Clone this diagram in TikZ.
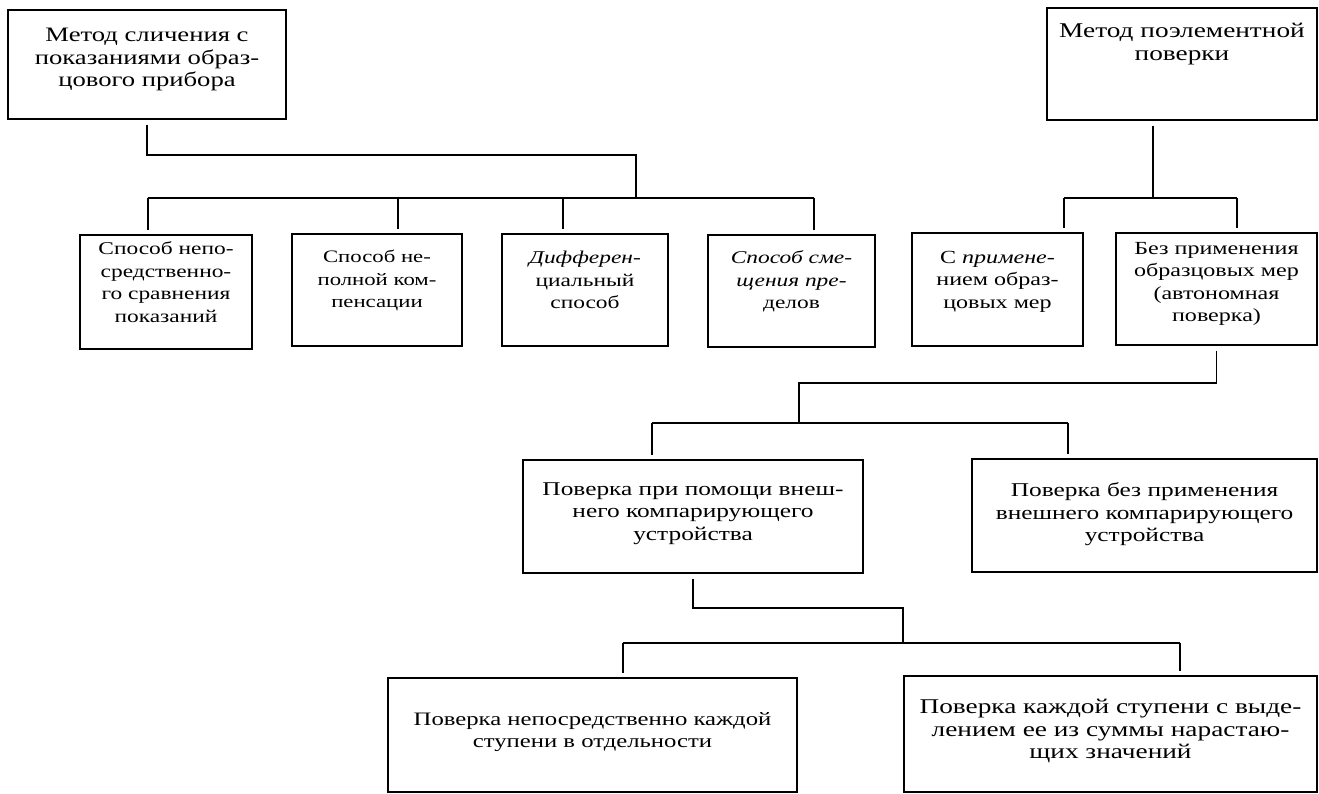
\documentclass[tikz,border=0pt]{standalone}
\usepackage{fontspec}
\setmainfont{Liberation Serif}[FakeStretch=1.3]
\usetikzlibrary{calc}

\begin{document}
\begin{tikzpicture}[x=1pt, y=-1pt,
		box/.style={draw, line width=1.3pt, align=center, inner sep=0pt, font=\fontsize{19}{22.5}\selectfont},
		fs/.style={font=\fontsize{#1}{22.5}\selectfont},
		lift/.style={text depth=#1},
		feed/.style={line width=1.2pt, shorten <=5pt},
		drop/.style={line width=1.2pt, shorten >=4pt},
		bus/.style={line width=1.2pt}]
				\useasboundingbox (0,0) rectangle (1319,794);
				\fill[white] (0,0) rectangle (1319,794);

				\node[box, fs=20.5, lift=14pt, minimum width=278, minimum height=109] (slich) at (147,64.5) {Метод сличения с\\показаниями образ-\\цового прибора};
				\node[box, fs=21, lift=44pt, minimum width=270, minimum height=112] (poel) at (1182,64) {Метод поэлементной\\поверки};

				\node[box, fs=18, lift=20pt, minimum width=172, minimum height=114] (sp1) at (166,292) {Способ непо-\\средственно-\\го сравнения\\показаний};
				\node[box, fs=17.5, lift=22pt, minimum width=170, minimum height=112] (sp2) at (377,290) {Способ не-\\полной ком-\\пенсации};
				\node[box, fs=18, lift=20pt, minimum width=166, minimum height=112] (sp3) at (585,290) {\textit{Дифферен-}\\циальный\\способ};
				\node[box, fs=18, lift=22pt, minimum width=167, minimum height=112] (sp4) at (791.5,291) {\textit{Способ сме-}\\\textit{щения пре-}\\делов};
				\node[box, fs=18.5, lift=20pt, minimum width=171, minimum height=113] (sobr) at (997.5,289.5) {С \textit{примене-}\\нием образ-\\цовых мер};
				\node[box, fs=18.5, lift=14pt, minimum width=201, minimum height=112] (avt) at (1216.5,289) {Без применения\\образцовых мер\\(автономная\\поверка)};

				\node[box, fs=19.5, lift=10pt, minimum width=340, minimum height=113] (vnesh) at (693,516.5) {Поверка при помощи внеш-\\него компарирующего\\устройства};
				\node[box, fs=19.5, lift=6pt, minimum width=345, minimum height=113] (bezv) at (1144.5,515.5) {Поверка без применения\\внешнего компарирующего\\устройства};

				\node[box, lift=10pt, minimum width=409, minimum height=114] (kazhd) at (592.5,735) {Поверка непосредственно каждой\\ступени в отдельности};
				\node[box, fs=21, lift=10pt, minimum width=413, minimum height=116] (summ) at (1110.5,734) {Поверка каждой ступени с выде-\\лением ее из суммы нарастаю-\\щих значений};

				\coordinate (j0) at (636,155);
				\coordinate (j1) at (636,198);
				\coordinate (ja) at (148,198);
				\coordinate (jb) at (398,198);
				\coordinate (jc) at (563,198);
				\coordinate (jd) at (814,198);
				\coordinate (j2) at (1153,198);
				\coordinate (je) at (1064,198);
				\coordinate (jf) at (1237,198);
				\coordinate (j3) at (1216,383);
				\coordinate (j4) at (799,423);
				\coordinate (jg) at (652,423);
				\coordinate (jh) at (1068,423);
				\coordinate (j5) at (903,608);
				\coordinate (j6) at (903,643);
				\coordinate (ji) at (623,643);
				\coordinate (jj) at (1180,643);

				\draw[feed] (slich) -- (slich |- j0) -| (j1);
				\draw[bus] (ja) -- (jd);
				\foreach \j/\n in {ja/sp1, jb/sp2, jc/sp3, jd/sp4}
					\draw[drop] (\j) -- (\j |- \n.north);

				\draw[feed] (j2 |- poel.south) -- (j2);
				\draw[bus] (je) -- (jf);
				\foreach \j/\n in {je/sobr, jf/avt}
					\draw[drop] (\j) -- (\j |- \n.north);

				\draw[feed] (avt) -- (avt |- j3) -| (j4);
				\draw[bus] (jg) -- (jh);
				\foreach \j/\n in {jg/vnesh, jh/bezv}
					\draw[drop] (\j) -- (\j |- \n.north);

				\draw[feed] (vnesh) -- (vnesh |- j5) -| (j6);
				\draw[bus] (ji) -- (jj);
				\foreach \j/\n in {ji/kazhd, jj/summ}
					\draw[drop] (\j) -- (\j |- \n.north);
			\end{tikzpicture}
\end{document}
